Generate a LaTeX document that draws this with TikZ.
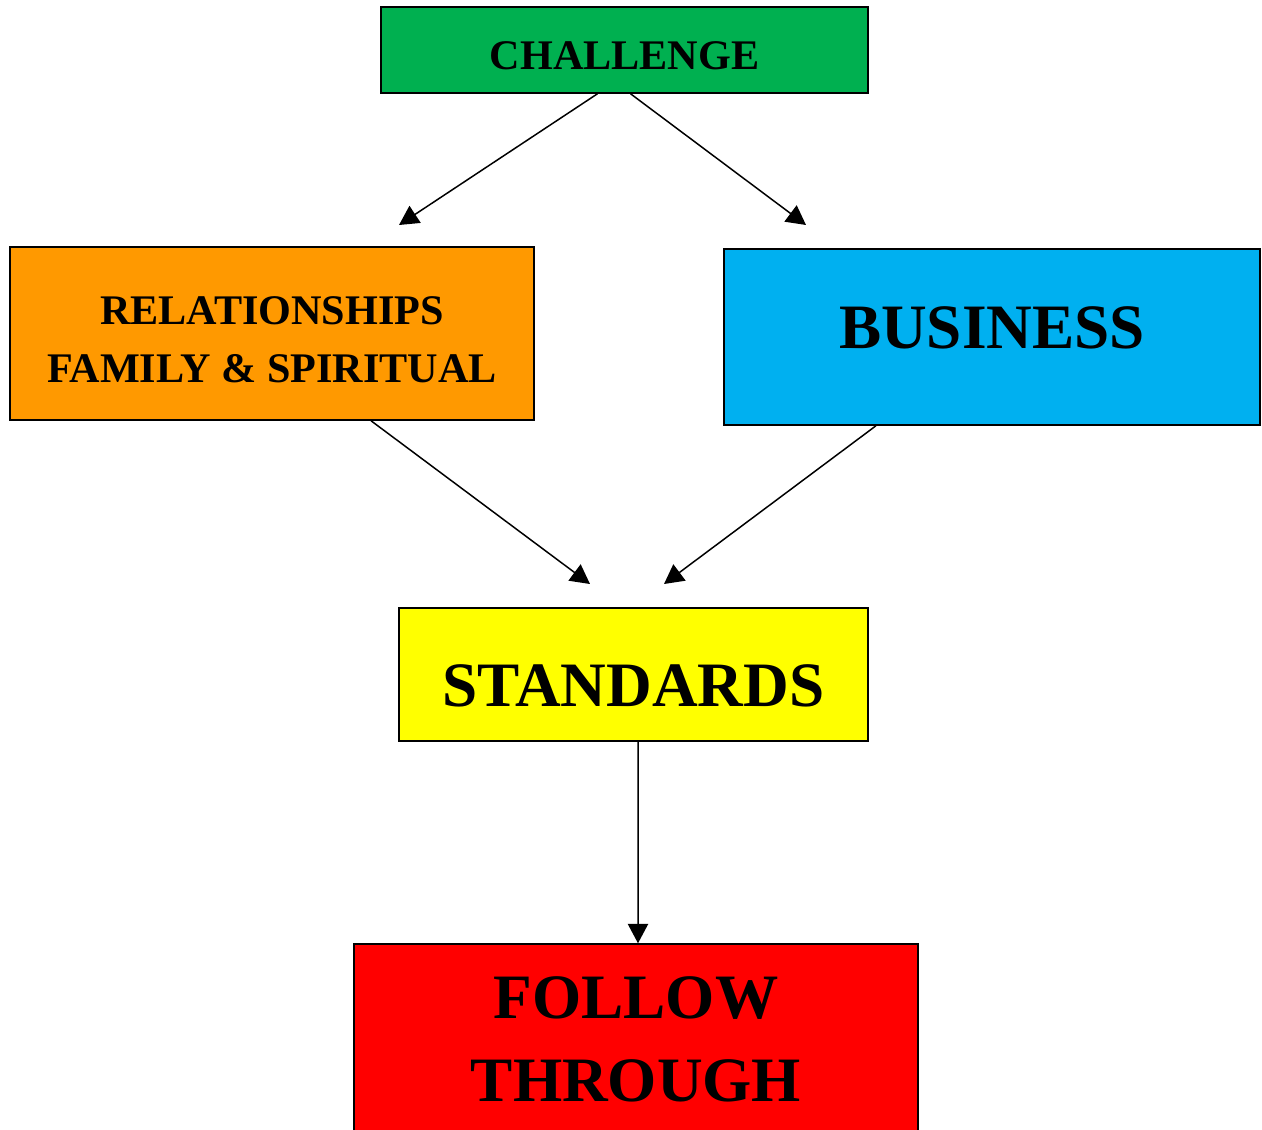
\documentclass[tikz,border=0pt]{standalone}
\usepackage{fontspec}
\setmainfont{Liberation Serif}
\usetikzlibrary{calc}
\usetikzlibrary{arrows.meta}
\usepackage{xcolor}
\definecolor{chalgreen}{RGB}{0,176,80}
\definecolor{relorange}{RGB}{255,153,0}
\definecolor{buscyan}{RGB}{0,176,240}
\definecolor{stdyellow}{RGB}{255,255,0}

\begin{document}
\begin{tikzpicture}[x=0.02cm, y=-0.02cm]
        % ================= styles =================
        \tikzset{
            % coloured box
            box/.style={draw=black, line width=0.85pt, rectangle, align=center, inner sep=0pt, font=\bfseries},
            % small text
            smalltext/.style={font=\fontsize{24}{33}\selectfont\bfseries},
            % large text
            bigtext/.style={font=\fontsize{36}{47}\selectfont\bfseries},
            % connector
            arrow/.style={line width=0.85pt, black, -{Triangle[length=11pt, width=11.5pt]}}
        }
        \useasboundingbox (0,0) rectangle (1262,1130);

        % ================= 1. boxes =================
        \node[box, smalltext, fill=chalgreen, minimum width=9.74cm, minimum height=1.72cm, text height=22.7pt] (chal) at (624.5, 50) {CHALLENGE};
        \node[box, smalltext, fill=relorange, minimum width=10.48cm, minimum height=3.46cm, text height=55.5pt, text depth=0pt] (rel) at (272, 333.5) {RELATIONSHIPS\\FAMILY \& SPIRITUAL};
        \node[box, bigtext, fill=buscyan, minimum width=10.72cm, minimum height=3.52cm, text depth=11pt] (bus) at (992, 337) {BUSINESS};
        \node[box, bigtext, fill=stdyellow, minimum width=9.38cm, minimum height=2.66cm, text height=36.8pt] (std) at (633.5, 674.5) {STANDARDS};
        \node[box, bigtext, fill=red, minimum width=11.28cm, minimum height=3.82cm] (follow) at (636, 1039.5) {FOLLOW\\THROUGH};

        % ================= 2. free arrow ends =================
        \coordinate (e1) at (399, 225);
        \coordinate (e2) at (806, 225);
        \coordinate (e3) at (590, 584);
        \coordinate (e4) at (664, 584);

        % ================= 3. connectors =================
        \draw[arrow] ($(chal.south)+(-27,0)$) -- (e1);
        \draw[arrow] ($(chal.south)+(6,0)$) -- (e2);
        \draw[arrow] ($(rel.south)+(99,0)$) -- (e3);
        \draw[arrow] ($(bus.south)+(-116,0)$) -- (e4);
        \draw[arrow] ($(std.south)+(4.5,0)$) -- ($(follow.north)+(2,0)$);

    \end{tikzpicture}
\end{document}
